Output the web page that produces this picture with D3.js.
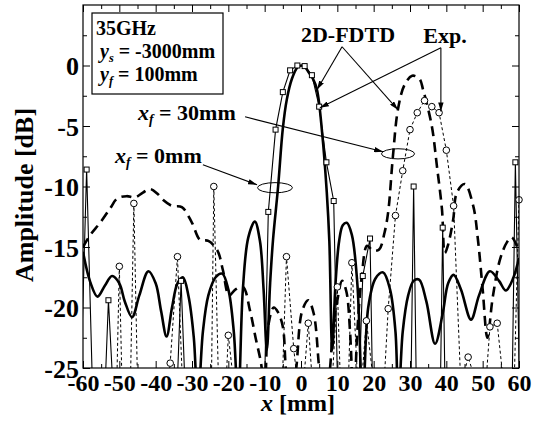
<!DOCTYPE html>
<html><head><meta charset="utf-8">
<script src="https://cdn.jsdelivr.net/npm/d3@7"></script>
<style>
body{margin:0;background:#fff}
svg{display:block}
text{font-family:"Liberation Serif","Times New Roman",serif;font-weight:bold;fill:#000}
</style>
</head><body><svg id="c" width="549" height="428"></svg>
<script>
// ---- data ----
const xTicks = [-60,-50,-40,-30,-20,-10,0,10,20,30,40,50,60];
const xMinor = [-55,-45,-35,-25,-15,-5,5,15,25,35,45,55];
const yTicks = [-25,-20,-15,-10,-5,0];
const yMinor = [-22.5,-17.5,-12.5,-7.5,-2.5,2.5];

// 2D-FDTD, xf = 0 mm (thick solid)
const fdtd0 = [[-60,-15.4],[-58,-17.9],[-56,-19.1],[-54,-18.2],[-52,-17.4],[-50,-18.0],[-48.5,-19.5],[-46.5,-20.8],[-44.5,-19.0],[-42,-17.0],[-40,-18.0],[-38.5,-20.3],[-37,-22.4],[-35.5,-20.0],[-34,-18.0],[-32.5,-17.5],[-31,-19.0],[-29.5,-22.5],[-28.4,-28],[-27,-22],[-25.5,-19],[-23.5,-17.5],[-21.7,-17.2],[-20,-18.5],[-18.5,-22],[-17.3,-28],[-16,-18.5],[-14.5,-14.2],[-12.7,-12.9],[-11.3,-14.5],[-10.3,-18.5],[-9.4,-23.5],[-8.5,-18],[-7.7,-14.4],[-6.3,-10],[-5,-5.2],[-3.9,-2.8],[-2.5,-1.1],[-1,-0.15],[0,0],[1,-0.1],[2.2,-0.6],[3.3,-1.1],[4.4,-2.0],[5.8,-5.5],[7.1,-10.5],[7.8,-14.5],[8.6,-23.5],[9.5,-18],[10.5,-14.5],[11.5,-13.2],[12.6,-13.0],[14,-14],[15.5,-18],[17,-28],[18.5,-20.0],[20.5,-17.6],[22.6,-17.1],[24.5,-18.5],[26,-22],[26.8,-28],[28,-22],[29.5,-19],[31,-17.8],[32.5,-17.7],[34.5,-19.5],[36.9,-23],[39,-20.5],[40.5,-18.0],[42,-17.3],[44,-18.5],[46.8,-21],[49,-19],[52,-17.0],[54.5,-17.8],[56.4,-18.6],[58.5,-17.5],[60,-15.9]];

// 2D-FDTD, xf = 30 mm (thick dashed)
const fdtd30 = [[-60,-15.0],[-58,-14.0],[-55.3,-13.0],[-52.5,-11.8],[-50.6,-11.0],[-48,-10.8],[-45.7,-10.9],[-43.5,-10.5],[-41.6,-10.2],[-39.5,-10.6],[-38,-11.1],[-35.5,-11.6],[-32.8,-11.7],[-30,-13.0],[-27.8,-14.4],[-25.5,-14.5],[-23,-15.3],[-21.5,-16.9],[-19.8,-19.0],[-18,-18.5],[-16,-18.3],[-14,-20.3],[-12.5,-22.5],[-11,-24.6],[-10,-27],[-9,-21.5],[-7.5,-20.0],[-6.3,-20.4],[-5,-21.6],[-4.2,-25],[-3,-29],[-1.3,-25],[0.3,-20.3],[2,-19.4],[3.5,-20.5],[5,-25],[6.5,-29],[8,-25],[8.8,-21.8],[9.9,-19.6],[11.3,-17.8],[12.5,-18.7],[13.5,-22],[14.5,-28],[15.5,-22],[16.7,-17.5],[18.2,-14.9],[19.8,-15.3],[21.5,-15.2],[23,-13.8],[24,-12.1],[25.3,-7.5],[26.7,-3.6],[28.5,-1.6],[30.6,-0.85],[32.6,-1.1],[33.6,-2.0],[36,-5.0],[37.4,-8.3],[38.8,-11.9],[39.6,-15.5],[40.5,-14.8],[41.9,-12.7],[42.9,-10.5],[45.1,-9.8],[47.4,-11.6],[48.7,-14.4],[50,-18.5],[51.3,-22.5],[52.8,-19.1],[54.8,-16.0],[56.7,-14.6],[58,-14.2],[60,-15.4]];

// Exp., xf = 0 mm (thin solid, squares)
const exp0X = [-61,-59,-57,-55,-53,-51,-49,-47,-45,-43,-41,-39,-37,-35,-33,-31,-29,-27,-25,-23,-21,-19,-17,-15,-13,-11,-9,-7,-5,-3,-1,1,3,5,7,9,11,13,15,17,19,21,23,25,27,29,31,33,35,37,39,41,43,45,47,49,51,53,55,57,59,61];
const exp0Y = [-30,-8.6,-31,-35,-19.4,-31,-42,-45,-40,-44,-38,-43,-40,-34,-17.8,-34,-41,-38,-44,-40,-37,-42,-45,-39,-43,-40,-12.1,-5.3,-2.2,-0.4,0,-0.05,-0.8,-3.4,-8.0,-11.2,-40,-44,-35,-17.4,-14.3,-50,-42,-46,-40,-55,-10.0,-55,-44,-55,-13.4,-55,-45,-42,-48,-44,-46,-41,-47,-50,-8.0,-40];

// Exp., xf = 30 mm (thin dashed, circles)
const exp30X = [-60,-58,-56,-54,-52,-50,-48,-46,-44,-42,-40,-38,-36,-34,-32,-30,-28,-26,-24,-22,-20,-18,-16,-14,-12,-10,-8,-6,-4,-2,0,2,4,6,8,10,12,14,16,18,20,22,24,26,28,30,32,34,36,38,40,42,44,46,48,50,52,54,56,58,60];
const exp30Y = [-35,-40,-38,-42,-44,-16.6,-43,-11.4,-41,-45,-40,-30,-24.6,-15.8,-31,-42,-46,-60,-10.0,-35,-22.3,-27.7,-40,-45,-42,-46,-40,-34,-15.8,-23.4,-29,-21.3,-30,-42,-29.5,-18.3,-37,-16.3,-28.7,-21.1,-26.3,-31,-20.1,-12.4,-8.7,-5.3,-3.9,-2.9,-3.4,-3.9,-7.0,-11.6,-26.5,-24.1,-26,-30,-21.6,-21.3,-27,-34,-11.1];

// ---- layout ----
const L = 83, R = 519, T = 5, B = 368;
const FONT = '"Liberation Serif","Times New Roman",serif';

const svg = d3.select("#c");
const x = d3.scaleLinear().domain([-60,60]).range([L,R]);
const y = d3.scaleLinear().domain([-25,5]).range([B,T]);

const defs = svg.append("defs");
defs.append("clipPath").attr("id","plot").append("rect")
  .attr("x",L).attr("y",T).attr("width",R-L).attr("height",B-T);
defs.append("marker").attr("id","ah").attr("viewBox","0 0 10 6")
  .attr("refX",10).attr("refY",3).attr("markerWidth",9).attr("markerHeight",5.4)
  .attr("markerUnits","userSpaceOnUse").attr("orient","auto")
  .append("path").attr("d","M0,0L10,3L0,6Z").attr("fill","#000");

const plot = svg.append("g").attr("clip-path","url(#plot)");

const thick = d3.line().x(d=>x(d[0])).y(d=>y(d[1])).curve(d3.curveCatmullRom.alpha(0.5));
const thin = d3.line().x(d=>x(d[0])).y(d=>y(d[1]));

const e0 = exp0X.map((v,i)=>[v,exp0Y[i]]);
const e30 = exp30X.map((v,i)=>[v,exp30Y[i]]);

plot.append("path").attr("d",thin(e30)).attr("fill","none").attr("stroke","#000")
  .attr("stroke-width",1).attr("stroke-dasharray","3,2.5");
plot.append("path").attr("d",thin(e0)).attr("fill","none").attr("stroke","#000")
  .attr("stroke-width",1.1);
plot.append("path").attr("d",thick(fdtd30)).attr("fill","none").attr("stroke","#000")
  .attr("stroke-width",2.6).attr("stroke-dasharray","10,6");
plot.append("path").attr("d",thick(fdtd0)).attr("fill","none").attr("stroke","#000")
  .attr("stroke-width",2.6);

// markers (only visible points)
svg.append("g").selectAll("rect").data(e0.filter(d=>d[1]>=-25 && d[0]>=-60 && d[0]<=60)).join("rect")
  .attr("x",d=>x(d[0])-2.5).attr("y",d=>y(d[1])-2.5).attr("width",5).attr("height",5)
  .attr("fill","#fff").attr("stroke","#000").attr("stroke-width",1);
svg.append("g").selectAll("circle").data(e30.filter(d=>d[1]>=-25)).join("circle")
  .attr("cx",d=>x(d[0])).attr("cy",d=>y(d[1])).attr("r",3.3)
  .attr("fill","#fff").attr("stroke","#000").attr("stroke-width",1);

// ---- axes ----
const fmt = d => String(d);
const axB = svg.append("g").attr("transform",`translate(0,${B})`)
  .call(d3.axisBottom(x).tickValues(xTicks).tickSize(-7).tickPadding(6).tickFormat(fmt));
svg.append("g").attr("transform",`translate(0,${B})`)
  .call(d3.axisBottom(x).tickValues(xMinor).tickSize(-4).tickFormat(""));
svg.append("g").attr("transform",`translate(0,${T})`)
  .call(d3.axisTop(x).tickValues(xTicks).tickSize(-7).tickFormat(""));
svg.append("g").attr("transform",`translate(0,${T})`)
  .call(d3.axisTop(x).tickValues(xMinor).tickSize(-4).tickFormat(""));
const axL = svg.append("g").attr("transform",`translate(${L},0)`)
  .call(d3.axisLeft(y).tickValues(yTicks).tickSize(-7).tickPadding(4).tickFormat(fmt));
svg.append("g").attr("transform",`translate(${L},0)`)
  .call(d3.axisLeft(y).tickValues(yMinor).tickSize(-4).tickFormat(""));
svg.append("g").attr("transform",`translate(${R},0)`)
  .call(d3.axisRight(y).tickValues(yTicks).tickSize(-7).tickFormat(""));
svg.append("g").attr("transform",`translate(${R},0)`)
  .call(d3.axisRight(y).tickValues(yMinor).tickSize(-4).tickFormat(""));
svg.selectAll(".domain").remove();
svg.selectAll(".tick line").attr("stroke","#000").attr("stroke-width",1);
axB.selectAll("text").attr("font-family",FONT).attr("font-weight","bold").attr("font-size",24).attr("fill","#000");
axL.selectAll("text").attr("font-family",FONT).attr("font-weight","bold").attr("font-size",26).attr("fill","#000").attr("dy","0.35em");

svg.append("rect").attr("x",L).attr("y",T).attr("width",R-L).attr("height",B-T)
  .attr("fill","none").attr("stroke","#000").attr("stroke-width",1.2);

// axis titles
svg.append("text").attr("transform",`translate(33,195) rotate(-90)`).attr("text-anchor","middle")
  .attr("font-size",26).text("Amplitude [dB]");
const xt = svg.append("text").attr("x",298).attr("y",411).attr("text-anchor","middle").attr("font-size",24);
xt.append("tspan").attr("font-style","italic").text("x");
xt.append("tspan").text(" [mm]");

// ---- info box ----
svg.append("rect").attr("x",92).attr("y",13).attr("width",131).attr("height",81)
  .attr("fill","#fff").attr("stroke","#000").attr("stroke-width",1.2);
svg.append("text").attr("x",96).attr("y",35).attr("font-size",20).text("35GHz");
function subLabel(px, py, v, s, rest, fs){
  const t = svg.append("text").attr("x",px).attr("y",py).attr("font-size",fs);
  t.append("tspan").attr("font-style","italic").text(v);
  t.append("tspan").attr("font-style","italic").attr("font-size",fs*0.62).attr("dy",fs*0.2).text(s);
  t.append("tspan").attr("dy",-fs*0.2).text(rest);
  return t;
}
subLabel(100,58,"y","s"," = -3000mm",20);
subLabel(100,81,"y","f"," = 100mm",20);

// ---- annotations (data coordinates) ----
subLabel(138,120,"x","f"," = 30mm",22);
subLabel(115,163,"x","f"," = 0mm",22);
svg.append("text").attr("x",348).attr("y",42).attr("text-anchor","middle").attr("font-size",22).text("2D-FDTD");
svg.append("text").attr("x",445).attr("y",43).attr("text-anchor","middle").attr("font-size",22).text("Exp.");

const ellipses = [[26.7,-7.3,4.55,0.42],[-7.16,-10.1,4.8,0.42]];
ellipses.forEach(e=>{
  svg.append("ellipse").attr("cx",x(e[0])).attr("cy",y(e[1]))
    .attr("rx",x(e[2])-x(0)).attr("ry",y(0)-y(e[3]))
    .attr("fill","none").attr("stroke","#000").attr("stroke-width",1);
});
const arrows = [
  [[-15.4,-4.24],[22.6,-7.13]],
  [[-27,-8.2],[-12.1,-9.86]],
  [[11.3,1.55],[4.4,-2.0]],
  [[11.3,1.55],[26.7,-3.66]],
  [[38.5,1.46],[5.2,-3.5]],
  [[38.5,1.46],[38.5,-3.8]]
];
arrows.forEach(a=>{
  svg.append("line").attr("x1",x(a[0][0])).attr("y1",y(a[0][1]))
    .attr("x2",x(a[1][0])).attr("y2",y(a[1][1]))
    .attr("stroke","#000").attr("stroke-width",1.1).attr("marker-end","url(#ah)");
});
</script></body></html>
